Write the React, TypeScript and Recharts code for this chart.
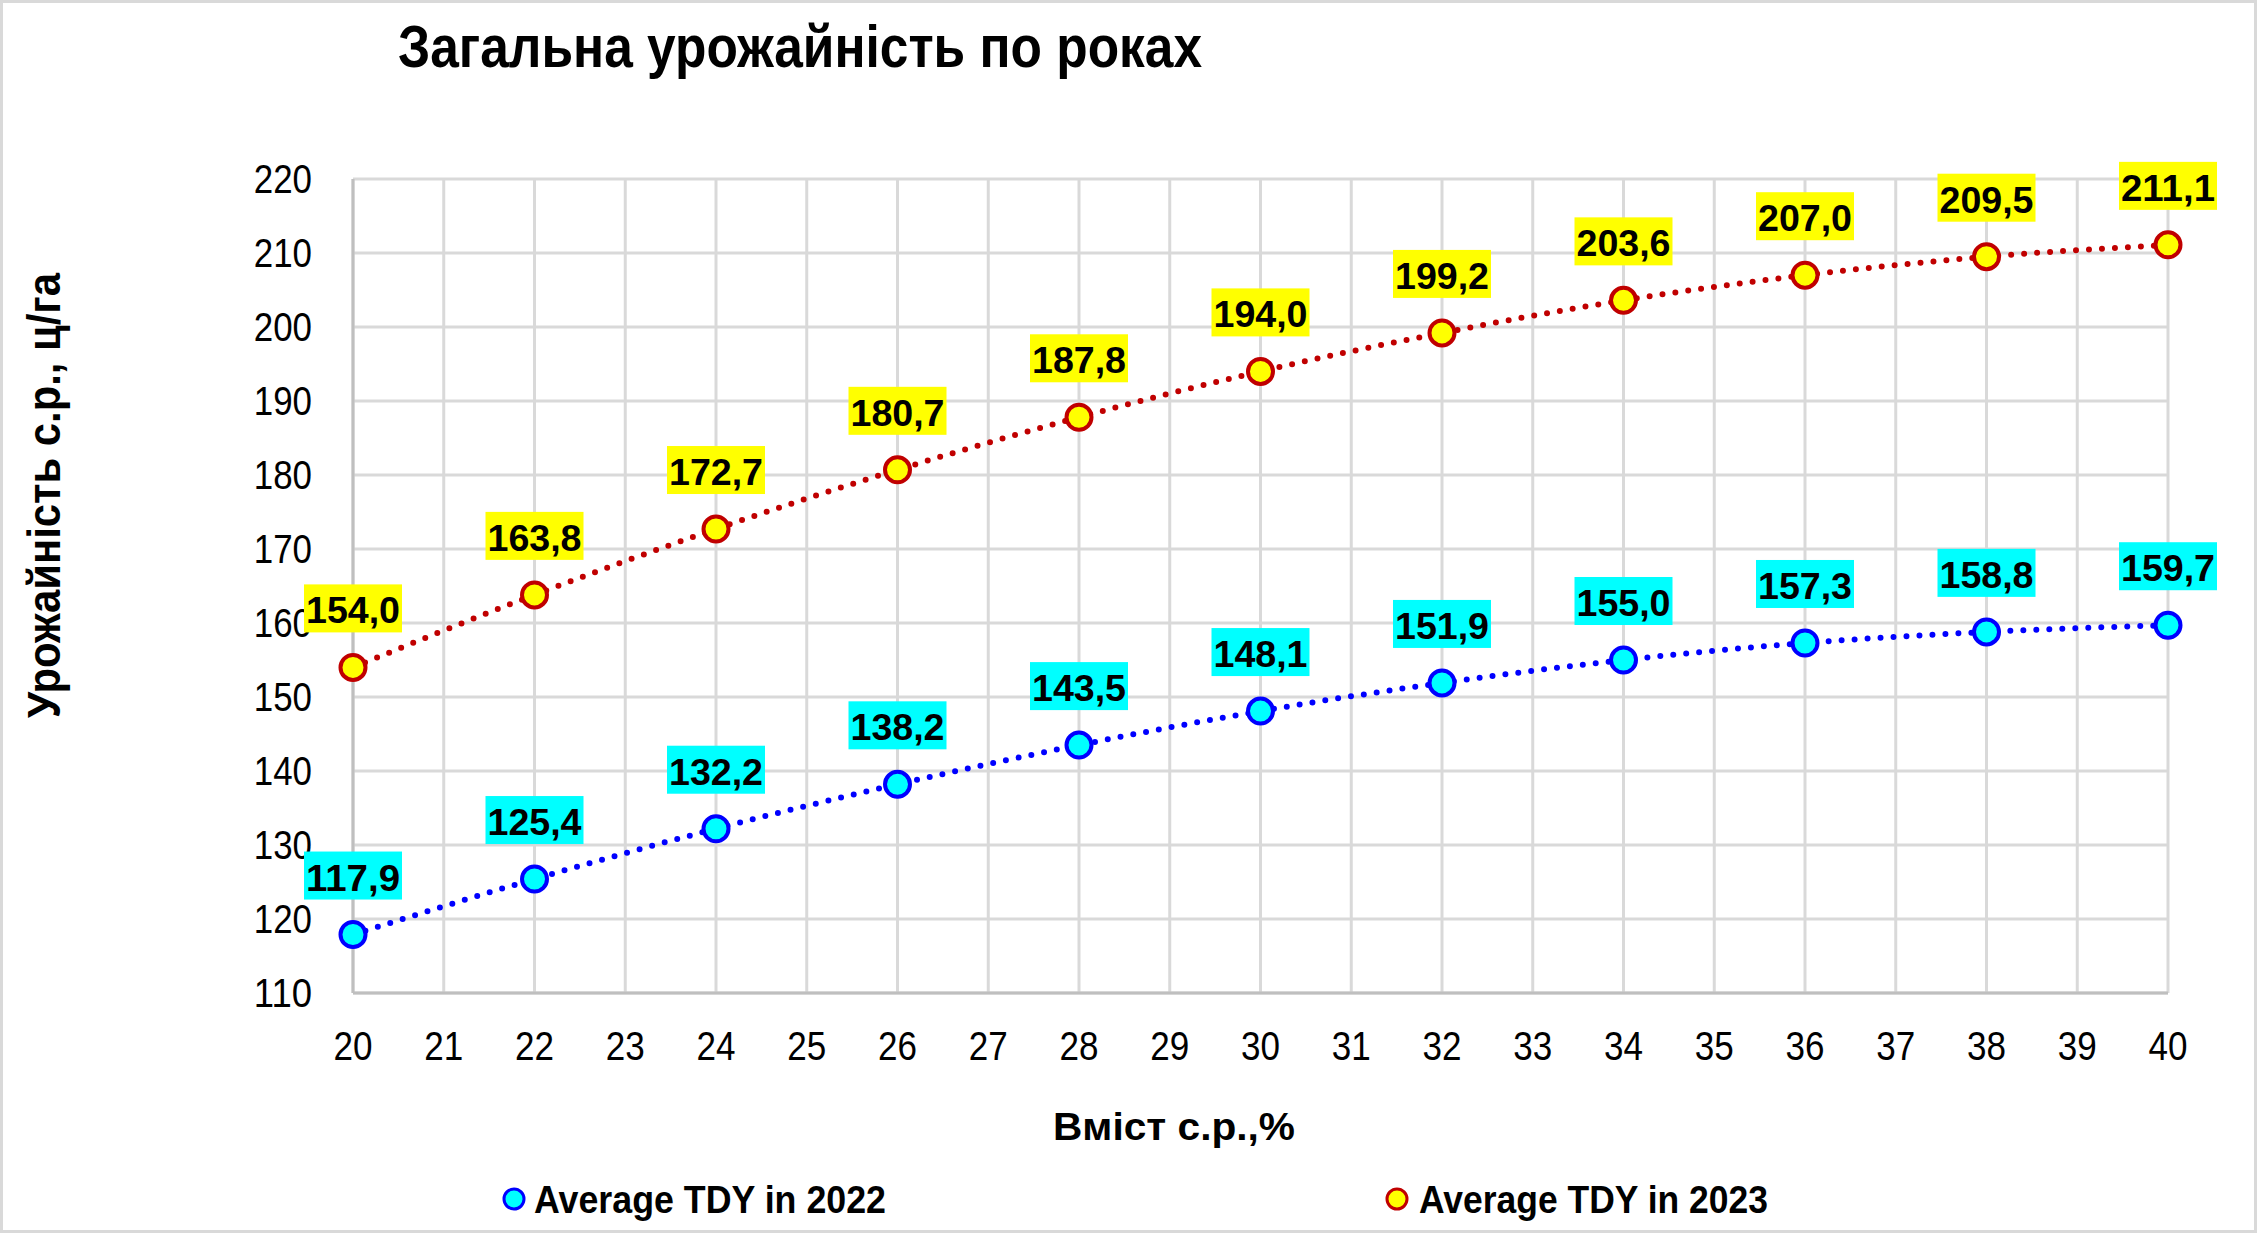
import { LineChart, Line, XAxis, YAxis, CartesianGrid, LabelList } from "recharts";

const contentX = [20, 22, 24, 26, 28, 30, 32, 34, 36, 38, 40];
const tdy2022 = [117.9, 125.4, 132.2, 138.2, 143.5, 148.1, 151.9, 155.0, 157.3, 158.8, 159.7];
const tdy2023 = [154.0, 163.8, 172.7, 180.7, 187.8, 194.0, 199.2, 203.6, 207.0, 209.5, 211.1];
const xTicks = [20, 21, 22, 23, 24, 25, 26, 27, 28, 29, 30, 31, 32, 33, 34, 35, 36, 37, 38, 39, 40];
const yTicks = [110, 120, 130, 140, 150, 160, 170, 180, 190, 200, 210, 220];

const chartTitle = "Загальна урожайність по роках";
const xTitle = "Вміст с.р.,%";
const yTitle = "Урожайність с.р., ц/га";
const seriesNames = ["Average TDY in 2022", "Average TDY in 2023"];

const data = contentX.map((x, i) => ({ x, y2022: tdy2022[i], y2023: tdy2023[i] }));

// no Arial Narrow here, so squeeze Liberation Sans to the widths
const FONT = "'Liberation Sans', Arial, sans-serif";
const W = 2257;
const H = 1233;

const fmt = (v: number) => v.toFixed(1).replace(".", ",");

function makeDot(fill: string, stroke: string) {
  return (props: any) => {
    const { cx, cy, index } = props;
    if (cx == null || cy == null) return null;
    return <circle key={index} cx={cx} cy={cy} r={12.5} fill={fill} stroke={stroke} strokeWidth={4} />;
  };
}

function makeLabel(bg: string) {
  return (props: any) => {
    const { x, y, value, index } = props;
    const bw = 98;
    const bh = 48;
    const top = y - 35 - bh;
    return (
      <g key={index}>
        <rect x={x - bw / 2} y={top} width={bw} height={bh} fill={bg} />
        <text
          x={x - 47}
          y={top + 39}
          textLength={94}
          lengthAdjust="spacingAndGlyphs"
          fontFamily={FONT}
          fontWeight="bold"
          fontSize={37}
          fill="#000"
        >
          {fmt(value)}
        </text>
      </g>
    );
  };
}

const XTick = (props: any) => {
  const { x, y, payload } = props;
  const s = String(payload.value);
  const w = 19.5 * s.length;
  return (
    <text x={x - w / 2} y={y + 67} textLength={w} lengthAdjust="spacingAndGlyphs" fontFamily={FONT} fontSize={40} fill="#000">
      {s}
    </text>
  );
};

const YTick = (props: any) => {
  const { x, y, payload } = props;
  const s = String(payload.value);
  const w = 19.4 * s.length;
  return (
    <text x={x - 41 - w} y={y + 13.5} textLength={w} lengthAdjust="spacingAndGlyphs" fontFamily={FONT} fontSize={40} fill="#000">
      {s}
    </text>
  );
};

export default function App() {
  return (
    <div style={{ position: "absolute", left: 0, top: 0, width: W, height: H, background: "#fff" }}>
      <LineChart
        width={W}
        height={H}
        data={data}
        margin={{ top: 179, right: 89, left: 253, bottom: 140 }}
      >
        <CartesianGrid stroke="#d9d9d9" strokeWidth={3} />
        <XAxis
          dataKey="x"
          type="number"
          domain={[20, 40]}
          ticks={xTicks}
          interval={0}
          height={100}
          tickSize={0}
          tickMargin={0}
          axisLine={{ stroke: "#bfbfbf", strokeWidth: 3 }}
          tick={XTick}
        />
        <YAxis
          type="number"
          domain={[110, 220]}
          ticks={yTicks}
          interval={0}
          width={100}
          tickSize={0}
          tickMargin={0}
          axisLine={{ stroke: "#bfbfbf", strokeWidth: 3 }}
          tick={YTick}
        />
        <Line dataKey="y2022" stroke="none" dot={makeDot("#00FFFF", "#0000FF")} isAnimationActive={false} />
        <Line dataKey="y2023" stroke="none" dot={makeDot("#FFFF00", "#C00000")} isAnimationActive={false} />
        <Line
          type="monotone"
          dataKey="y2022"
          stroke="#0000FF"
          strokeWidth={6}
          strokeDasharray="0 13"
          strokeLinecap="round"
          dot={false}
          isAnimationActive={false}
        >
          <LabelList dataKey="y2022" content={makeLabel("#00FFFF")} />
        </Line>
        <Line
          type="monotone"
          dataKey="y2023"
          stroke="#C00000"
          strokeWidth={6}
          strokeDasharray="0 13"
          strokeLinecap="round"
          dot={false}
          isAnimationActive={false}
        >
          <LabelList dataKey="y2023" content={makeLabel("#FFFF00")} />
        </Line>
      </LineChart>
      <svg width={W} height={H} style={{ position: "absolute", left: 0, top: 0, pointerEvents: "none" }}>
        <rect x={1.5} y={1.5} width={W - 3} height={H - 3} fill="none" stroke="#d9d9d9" strokeWidth={3} />
        <text x={398} y={67} textLength={804} lengthAdjust="spacingAndGlyphs" fontFamily={FONT} fontWeight="bold" fontSize={60}>
          {chartTitle}
        </text>
        <text x={1053} y={1140} textLength={242} lengthAdjust="spacingAndGlyphs" fontFamily={FONT} fontWeight="bold" fontSize={39}>
          {xTitle}
        </text>
        <text
          transform="translate(60, 718) rotate(-90)"
          x={0}
          y={0}
          textLength={445}
          lengthAdjust="spacingAndGlyphs"
          fontFamily={FONT}
          fontWeight="bold"
          fontSize={46}
        >
          {yTitle}
        </text>
        <circle cx={514} cy={1199} r={10} fill="#00FFFF" stroke="#0000FF" strokeWidth={3} />
        <text x={534} y={1213} textLength={352} lengthAdjust="spacingAndGlyphs" fontFamily={FONT} fontWeight="bold" fontSize={39}>
          {seriesNames[0]}
        </text>
        <circle cx={1397} cy={1199} r={10} fill="#FFFF00" stroke="#C00000" strokeWidth={3} />
        <text x={1419} y={1213} textLength={349} lengthAdjust="spacingAndGlyphs" fontFamily={FONT} fontWeight="bold" fontSize={39}>
          {seriesNames[1]}
        </text>
      </svg>
    </div>
  );
}
